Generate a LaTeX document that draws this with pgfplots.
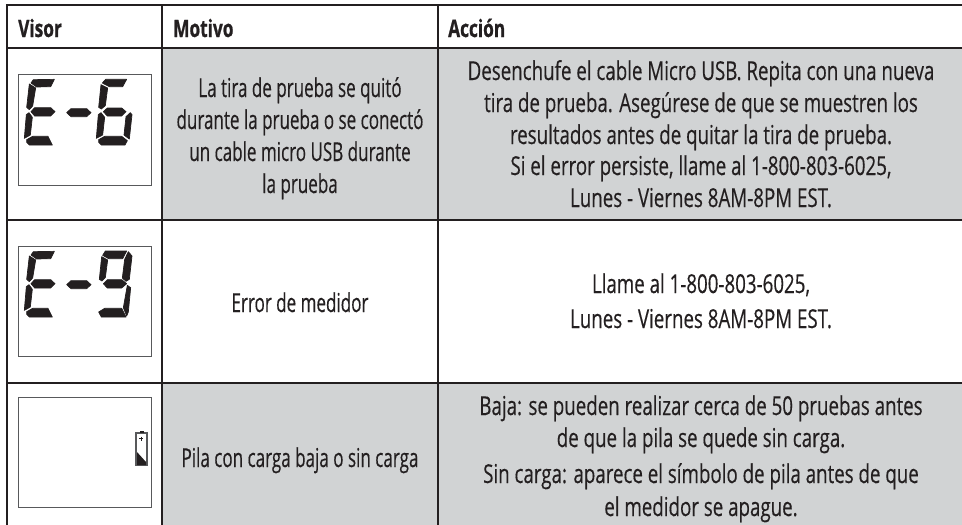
\documentclass[border=0pt]{standalone}
\usepackage{pgfplots}
\pgfplotsset{compat=1.18}
\usepackage{fontspec}
\setmainfont[FakeStretch=0.72,FakeBold=0.35]{Open Sans}
\newfontfamily\narrowfont[FakeStretch=0.655,FakeBold=0.35]{Open Sans}
\newfontfamily\hdfont[FakeStretch=0.72,FakeBold=0.8]{Open Sans Bold}
\definecolor{ink}{HTML}{231F20}
\definecolor{cellgray}{HTML}{D1D3D4}
\definecolor{boxgray}{HTML}{58595B}
\newcommand{\tx}[3]{\node[anchor=base,inner sep=0pt,text=ink,font=\fontsize{26}{30}\selectfont] at (axis cs:#1,#2) {#3};}
\newcommand{\txn}[3]{\node[anchor=base,inner sep=0pt,text=ink,font=\fontsize{26}{30}\narrowfont] at (axis cs:#1,#2) {#3};}
\newcommand{\hd}[3]{\node[anchor=base west,inner sep=0pt,text=ink,font=\fontsize{24}{28}\hdfont] at (axis cs:#1,#2) {#3};}
\pgfplotsset{
  rule/.style={draw=ink,line width=2.4pt,no marks,forget plot},
  cell/.style={fill=cellgray,draw=none,no marks,forget plot},
  lcd/.style={draw=none,fill=ink,no marks,forget plot},
  seg/.style 2 args={draw=ink,line width=0.7pt,line join=round,fill=ink,no marks,forget plot,
    x filter/.expression={#1+x/3},y filter/.expression={#2+y/3}},
}
\newcommand{\segE}[2]{%
 \addplot[seg={#1}{#2}] coordinates {(33,27)(40,17)(103,16)(92,38)(50,39)} --cycle;
 \addplot[seg={#1}{#2}] coordinates {(28,30)(47,42)(38,96)(28,107)(20,100)} --cycle;
 \addplot[seg={#1}{#2}] coordinates {(33,113)(44,101)(92,101)(105,113)(92,126)(44,126)} --cycle;
 \addplot[seg={#1}{#2}] coordinates {(19,122)(27,116)(37,130)(31,183)(13,193)} --cycle;
 \addplot[seg={#1}{#2}] coordinates {(20,197)(38,187)(84,187)(97,213)(28,213)(20,205)} --cycle;
 \addplot[seg={#1}{#2}] coordinates {(140,116)(153,104)(200,104)(213,116)(200,128)(153,128)} --cycle;
}
\begin{document}
\begin{tikzpicture}
\begin{axis}[
  width=962pt,height=525pt,scale only axis,
  xmin=0,xmax=962,ymin=0,ymax=525,y dir=reverse,
  axis line style={draw=none},ticks=none,
]
% grey cells
\addplot[cell] coordinates {(162,48)(962,48)(962,220)(162,220)} --cycle;
\addplot[cell] coordinates {(162,383)(962,383)(962,525)(162,525)} --cycle;
% rules
\addplot[rule] coordinates {(5.8,5)(962,5)};
\addplot[rule] coordinates {(7,48)(962,48)};
\addplot[rule] coordinates {(7,220)(962,220)};
\addplot[rule] coordinates {(7,383)(962,383)};
\addplot[rule] coordinates {(7,4)(7,525)};
\addplot[rule] coordinates {(162,4)(162,525)};
\addplot[rule] coordinates {(438,4)(438,525)};
% display boxes
\addplot[draw=boxgray,line width=1pt,no marks,forget plot] coordinates {(18.5,74)(151,74)(151,185)(18.5,185)} --cycle;
\addplot[draw=boxgray,line width=1pt,no marks,forget plot] coordinates {(18.5,246)(151,246)(151,356)(18.5,356)} --cycle;
\addplot[draw=boxgray,line width=1pt,no marks,forget plot] coordinates {(18.5,397)(151,397)(151,507)(18.5,507)} --cycle;
% E-6
\segE{20}{74}
\addplot[seg={20}{74}] coordinates {(247,27)(257,16)(320,16)(308,38)(268,38)} --cycle;
\addplot[seg={20}{74}] coordinates {(243,32)(263,42)(256,95)(244,105)(236,100)} --cycle;
\addplot[seg={20}{74}] coordinates {(250,113)(262,102)(305,102)(318,113)(305,126)(262,126)} --cycle;
\addplot[seg={20}{74}] coordinates {(235,122)(243,116)(254,130)(248,183)(229,193)} --cycle;
\addplot[seg={20}{74}] coordinates {(331,116)(336,122)(328,195)(312,183)(318,128)} --cycle;
\addplot[seg={20}{74}] coordinates {(236,197)(254,187)(305,187)(322,200)(315,213)(244,213)(236,205)} --cycle;
% E-9
\segE{20}{246}
\addplot[seg={20}{246}] coordinates {(248,28)(256,15)(320,15)(308,38)(266,38)} --cycle;
\addplot[seg={20}{246}] coordinates {(245,32)(263,42)(256,95)(246,105)(238,100)} --cycle;
\addplot[seg={20}{246}] coordinates {(325,17)(336,30)(328,100)(318,106)(307,96)(314,40)} --cycle;
\addplot[seg={20}{246}] coordinates {(250,113)(262,101)(305,101)(320,113)(305,126)(262,126)} --cycle;
\addplot[seg={20}{246}] coordinates {(322,118)(332,125)(325,198)(320,210)(310,185)} --cycle;
\addplot[seg={20}{246}] coordinates {(236,198)(254,187)(305,187)(318,213)(244,213)} --cycle;
% battery
\addplot[draw=boxgray,fill=white,line width=1.3pt,no marks,forget plot] coordinates {(136,433)(147,433)(147,465)(136,465)} --cycle;
\addplot[lcd] coordinates {(139.5,430.5)(143.5,430.5)(143.5,433)(139.5,433)} --cycle;
\addplot[lcd] coordinates {(137,452)(146,462)(146,465)(137,465)} --cycle;
\addplot[draw=ink,line width=1.2pt,no marks,forget plot] coordinates {(139.3,438.5)(143.3,438.5)};
\addplot[draw=ink,line width=1.2pt,no marks,forget plot] coordinates {(141.3,436.5)(141.3,440.5)};
% header
\hd{18}{37}{Visor}
\hd{173}{37}{Motivo}
\hd{448}{37}{Acción}
% column 2
\txn{300}{97}{La tira de prueba se quitó}
\txn{300}{129}{durante la prueba o se conectó}
\txn{300}{161}{un cable micro USB durante}
\txn{300}{193}{la prueba}
\txn{300}{312}{Error de medidor}
\txn{300}{467}{Pila con carga baja o sin carga}
% column 3
\tx{701}{80}{Desenchufe el cable Micro USB. Repita con una nueva}
\tx{701}{112}{tira de prueba. Asegúrese de que se muestren los}
\tx{701}{144}{resultados antes de quitar la tira de prueba.}
\tx{701}{175}{Si el error persiste, llame al 1-800-803-6025,}
\tx{701}{207}{Lunes - Viernes 8AM-8PM EST.}
\tx{701}{293}{Llame al 1-800-803-6025,}
\tx{701}{328}{Lunes - Viernes 8AM-8PM EST.}
\tx{701}{415}{Baja: se pueden realizar cerca de 50 pruebas antes}
\tx{701}{447}{de que la pila se quede sin carga.}
\tx{701}{483}{Sin carga: aparece el símbolo de pila antes de que}
\tx{701}{516}{el medidor se apague.}
\end{axis}
\end{tikzpicture}
\end{document}
